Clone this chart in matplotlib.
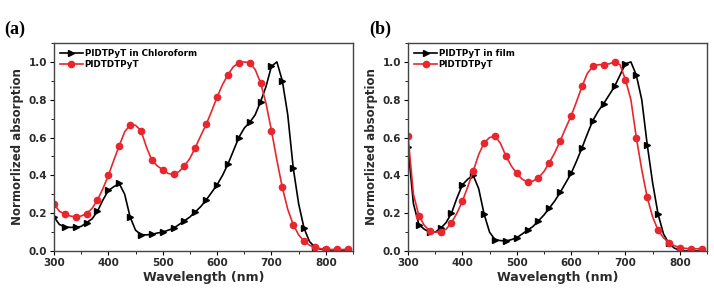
import numpy as np
import matplotlib
matplotlib.use("Agg")
import matplotlib.pyplot as plt
from matplotlib.ticker import MultipleLocator

wl = list(range(300, 850, 10))

a_black = [0.18, 0.14, 0.127, 0.125, 0.125, 0.13, 0.15, 0.17, 0.21, 0.27, 0.32, 0.34, 0.357, 0.30, 0.18, 0.11,
           0.087, 0.085, 0.088, 0.095, 0.10, 0.11, 0.12, 0.14, 0.16, 0.18, 0.207, 0.235, 0.27, 0.31,
           0.35, 0.40, 0.46, 0.53, 0.60, 0.65, 0.68, 0.72, 0.79, 0.87, 0.977, 1.0, 0.90, 0.72,
           0.44, 0.25, 0.12, 0.05, 0.02, 0.01, 0.005, 0.0, 0.0, 0.0, 0.0]
a_red = [0.248, 0.21, 0.195, 0.185, 0.18, 0.185, 0.198, 0.225, 0.27, 0.33, 0.40, 0.48, 0.557, 0.63, 0.667, 0.665,
         0.637, 0.55, 0.48, 0.45, 0.43, 0.41, 0.405, 0.42, 0.45, 0.49, 0.547, 0.61, 0.67, 0.74,
         0.814, 0.88, 0.933, 0.975, 0.995, 1.0, 0.995, 0.96, 0.89, 0.78, 0.637, 0.48, 0.336, 0.22,
         0.14, 0.085, 0.053, 0.03, 0.02, 0.012, 0.01, 0.008, 0.008, 0.008, 0.008]

b_black = [0.55, 0.25, 0.14, 0.115, 0.10, 0.10, 0.12, 0.15, 0.20, 0.28, 0.35, 0.38, 0.40, 0.33, 0.195, 0.10,
           0.06, 0.055, 0.053, 0.06, 0.07, 0.09, 0.11, 0.13, 0.16, 0.19, 0.227, 0.265, 0.31, 0.36,
           0.41, 0.475, 0.545, 0.62, 0.69, 0.74, 0.78, 0.825, 0.87, 0.93, 0.99, 1.0, 0.93, 0.80,
           0.563, 0.36, 0.195, 0.09, 0.04, 0.015, 0.005, 0.0, 0.0, 0.0, 0.0]
b_red = [0.61, 0.30, 0.187, 0.135, 0.107, 0.10, 0.10, 0.115, 0.15, 0.20, 0.263, 0.34, 0.423, 0.51, 0.572, 0.60,
         0.607, 0.57, 0.503, 0.45, 0.41, 0.38, 0.364, 0.37, 0.387, 0.42, 0.467, 0.52, 0.583, 0.65,
         0.714, 0.79, 0.87, 0.94, 0.977, 0.985, 0.986, 0.99, 1.0, 0.985, 0.906, 0.80, 0.60, 0.43,
         0.284, 0.18, 0.11, 0.07, 0.044, 0.028, 0.018, 0.014, 0.012, 0.012, 0.012]

labels_a = ["PIDTPyT in Chloroform", "PIDTDTPyT"]
labels_b = ["PIDTPyT in film", "PIDTDTPyT"]
xticks = [300, 400, 500, 600, 700, 800]
yticks = [0.0, 0.2, 0.4, 0.6, 0.8, 1.0]

RED = "#e8262e"
TXT = "#2b2b2b"
BOLD = dict(family="DejaVu Sans", weight="bold")

fig = plt.figure(figsize=(7.14, 2.88), dpi=100)
W, H = 714, 288
ax_a = fig.add_axes([54 / W, 1 - 251 / H, (353 - 54) / W, (251 - 43) / H])
ax_b = fig.add_axes([408 / W, 1 - 251 / H, (707 - 408) / W, (251 - 43) / H])

for ax, blk, red, labs, tag, tagx in [(ax_a, a_black, a_red, labels_a, "(a)", 4 / W),
                                      (ax_b, b_black, b_red, labels_b, "(b)", 369 / W)]:
    ax.plot(wl, blk, color="black", lw=1.2, marker=">", ms=4.5, markevery=2, label=labs[0])
    ax.plot(wl, red, color=RED, lw=1.2, marker="o", ms=4.5, markevery=2, label=labs[1])
    ax.set_xlim(300, 850)
    ax.set_ylim(0, 1.1)
    ax.set_xticks(xticks)
    ax.set_yticks(yticks)
    ax.set_yticklabels([f"{v:.1f}" for v in yticks])
    ax.xaxis.set_minor_locator(MultipleLocator(50))
    ax.yaxis.set_minor_locator(MultipleLocator(0.1))
    ax.tick_params(which="major", direction="out", length=3, width=0.8, labelsize=7.5, pad=2)
    ax.tick_params(which="minor", direction="out", length=2, width=0.6)
    for lab in ax.get_xticklabels() + ax.get_yticklabels():
        lab.set_fontfamily("DejaVu Sans")
        lab.set_fontweight("bold")
        lab.set_color(TXT)
    for s in ax.spines.values():
        s.set_linewidth(1.0)
        s.set_color("#444444")
    ax.set_xlabel("Wavelength (nm)", fontsize=9, labelpad=2, color=TXT, **BOLD)
    ax.set_ylabel("Normorlized absorption", fontsize=8.5, labelpad=3, color=TXT, **BOLD)
    leg = ax.legend(loc="upper left", frameon=False, handlelength=2.6, handletextpad=0.2,
                    labelspacing=0.2, borderaxespad=0.3, prop=dict(family="DejaVu Sans", weight="bold", size=6.3))
    fig.text(tagx, 1 - 34 / H, tag, fontsize=13, fontweight="bold", family="Liberation Serif")

fig.savefig("out.png", dpi=100)
